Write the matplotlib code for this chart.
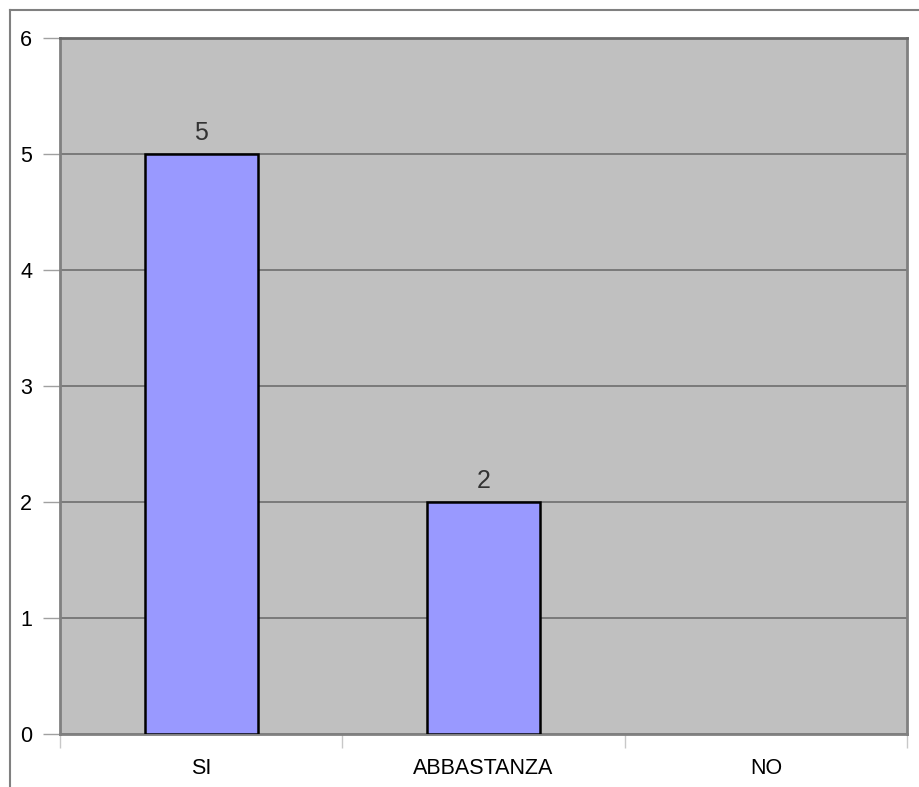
import matplotlib
matplotlib.use("Agg")
import matplotlib.pyplot as plt
from matplotlib.lines import Line2D

categories = ["SI", "ABBASTANZA", "NO"]
values = [5, 2, 0]
yticks = [0, 1, 2, 3, 4, 5, 6]

W, H = 919, 787
fig = plt.figure(figsize=(W / 100, H / 100), dpi=100)
fig.patch.set_facecolor("white")

# outer frame (top and left)
fig.add_artist(Line2D([10 / W, 1], [1 - 10 / H, 1 - 10 / H], color="#808080", lw=1.5))
fig.add_artist(Line2D([10 / W, 10 / W], [0, 1 - 10 / H], color="#808080", lw=1.5))

l, r, t, b = 60, 907, 38, 734
ax = fig.add_axes([l / W, 1 - b / H, (r - l) / W, (b - t) / H])
ax.set_facecolor("#c0c0c0")

x = list(range(len(categories)))
ax.set_xlim(-0.5, len(categories) - 0.5)
ax.set_ylim(0, 6)
ax.set_yticks(yticks)
ax.set_yticklabels([str(v) for v in yticks], fontsize=15.5, family="Liberation Sans")
ax.yaxis.grid(True, color="#6e6e6e", lw=1.2)
ax.set_axisbelow(True)

bars = ax.bar(x, values, width=0.4, color="#9999ff", edgecolor="black", linewidth=1.8, zorder=3)
for bar, v in zip(bars, values):
    if v == 0:
        bar.set_linewidth(0)
for xi, v in zip(x, values):
    if v > 0:
        ax.text(xi, v + 0.08, str(v), ha="center", va="bottom", fontsize=18,
                color="#333333", family="Liberation Sans")

ax.set_xticks(x)
ax.set_xticklabels(categories, fontsize=15.5, family="Liberation Sans")
ax.tick_params(axis="x", length=0, pad=17)
ax.set_xticks([-0.5, 0.5, 1.5, 2.5], minor=True)
ax.tick_params(axis="x", which="minor", length=10, color="#c8c8c8", width=1)
ax.tick_params(axis="y", length=12, color="#a0a0a0", width=1, pad=8)

for side in ["left", "bottom", "right", "top"]:
    ax.spines[side].set_color("#808080")
    ax.spines[side].set_linewidth(2)
ax.spines["top"].set_color("#6a6a6a")

fig.savefig("out.png", dpi=100)
